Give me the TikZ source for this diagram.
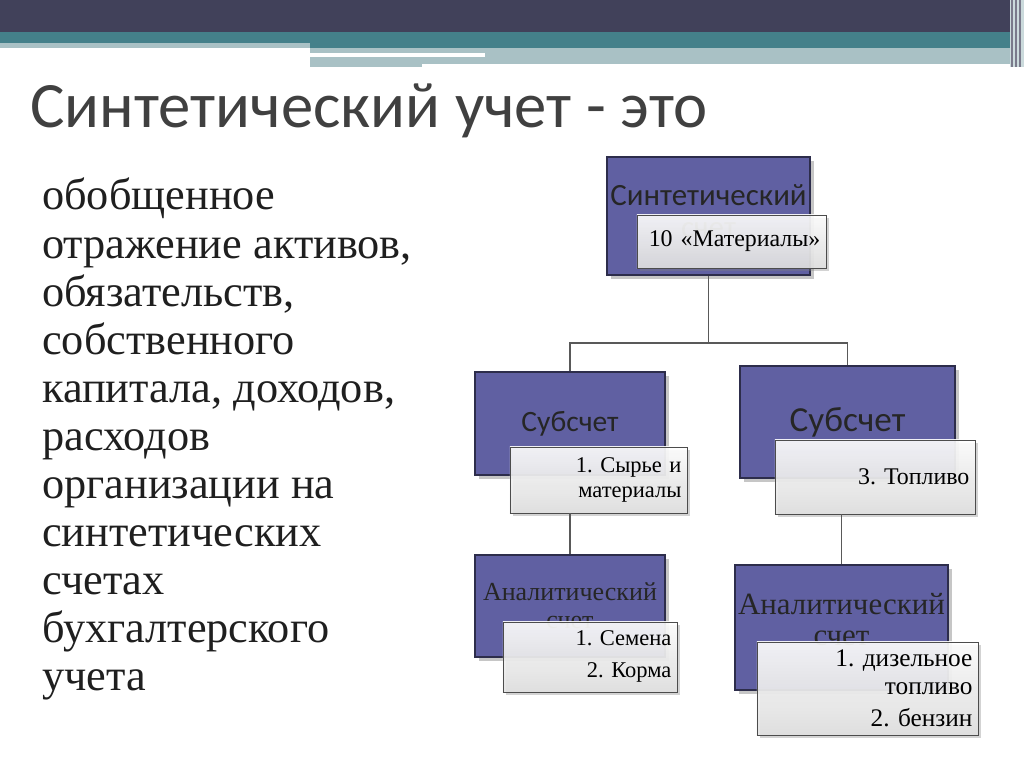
\documentclass[tikz,border=0pt]{standalone}
\usepackage{fontspec}
\setmainfont{Liberation Serif}
\newfontfamily\headfont{Carlito}
\usetikzlibrary{shadows,positioning}

\definecolor{barDark}{RGB}{65,65,90}
\definecolor{barTeal}{RGB}{68,128,138}
\definecolor{barLight}{RGB}{169,193,197}
\definecolor{boxFill}{RGB}{96,96,162}
\definecolor{boxEdge}{RGB}{45,45,75}
\definecolor{titleGray}{RGB}{64,64,64}

\tikzset{
  accbox/.style={draw=boxEdge, line width=1.2pt, fill=boxFill, inner sep=2pt, align=center, text=black!85,
    drop shadow={shadow xshift=3pt, shadow yshift=-3pt, opacity=0.45}},
  acclabel/.style={draw=black!70, line width=0.6pt, top color=white, bottom color=black!12, fill opacity=0.9, text opacity=1,
    inner sep=4pt, align=right, drop shadow={shadow xshift=2pt, shadow yshift=-2pt, opacity=0.35}},
  link/.style={draw=black!65, line width=0.9pt},
}

\begin{document}
\frenchspacing
\begin{tikzpicture}[x=0.025cm,y=-0.025cm]
    \useasboundingbox (0,0) rectangle (1024,767);

    % header bars
    \fill[barDark] (0,0) rectangle (1024,32);
    \fill[barTeal] (0,32) rectangle (1024,43);
    \fill[barTeal] (310,43) rectangle (1010,48);
    \fill[barLight] (0,43) rectangle (310,48);
    \fill[barLight] (310,48) rectangle (1010,53);
    \fill[barLight] (485,53) rectangle (1010,57);
    \fill[barLight] (310,57) rectangle (422,67);
    \fill[barLight] (422,57) rectangle (1010,64);
    \fill[barLight!60] (1010,0) rectangle (1024,67);
    \foreach \x in {1012,1016,1020}
        \draw[barDark!70, line width=0.8pt] (\x,0) -- (\x,67);

    % title and text
    \node[anchor=base west, inner sep=0, text=titleGray, font=\headfont\fontsize{46}{52}\selectfont] (title) at (30,128) {Синтетический учет - это};
    \node[anchor=north west, inner sep=0, align=left, text=black!88, font=\fontsize{31.5}{34.2}\selectfont] (def) at (42,178)
        {обобщенное\\отражение активов,\\обязательств,\\собственного\\капитала, доходов,\\расходов\\организации на\\синтетических\\счетах\\бухгалтерского\\учета};

    % boxes
    \node[accbox, minimum width=5.075cm, minimum height=2.95cm, font=\headfont\fontsize{22}{23}\selectfont] (syn) at (708.5,216) {Синтетический\\счет\\[-16pt]\mbox{}};
    \node[acclabel, text width=4.445cm, minimum height=1.325cm, font=\fontsize{17}{20}\selectfont] (synlab) at (731.5,241.5) {10 «Материалы»};

    \node[accbox, minimum width=4.75cm, minimum height=2.575cm, font=\headfont\fontsize{21}{22}\selectfont] (sub1) at (570,423.5) {Субсчет};
    \node[acclabel, text width=4.145cm, minimum height=1.65cm, font=\fontsize{16}{18}\selectfont] (sub1lab) at (598.5,480) {1. Сырье и\\материалы};

    \node[accbox, minimum width=5.375cm, minimum height=2.8cm, font=\headfont\fontsize{25}{26}\selectfont] (sub2) at (847.5,422) {Субсчет};
    \node[acclabel, text width=4.72cm, minimum height=1.85cm, font=\fontsize{17}{20}\selectfont] (sub2lab) at (875,477) {3. Топливо};

    \node[accbox, minimum width=4.75cm, minimum height=2.55cm, font=\fontsize{18.5}{20}\selectfont] (an1) at (570,606) {Аналитический\\счет};
    \node[acclabel, text width=4.07cm, minimum height=1.75cm, font=\fontsize{16}{22}\selectfont] (an1lab) at (590,657) {\mbox{}\\[-12pt]1. Семена\\[1pt]2. Корма};

    \node[accbox, minimum width=5.325cm, minimum height=3.125cm, font=\fontsize{22}{22}\selectfont] (an2) at (841.5,627.5) {Аналитический\\счет\\[-11pt]\mbox{}};
    \node[acclabel, text width=5.245cm, minimum height=2.325cm, font=\fontsize{18}{20}\selectfont] (an2lab) at (867.5,688.5) {1. дизельное\\топливо\\[3pt]2. бензин};

    % connectors
    \coordinate (split) at (708.5,343);
    \draw[link] (syn.south) -- (split);
    \draw[link] (sub1.north) |- (split) -| (sub2.north);
    \draw[link] (sub1lab.south -| an1.north) -- (an1.north);
    \draw[link] (sub2lab.south -| an2.north) -- (an2.north);
\end{tikzpicture}
\end{document}
